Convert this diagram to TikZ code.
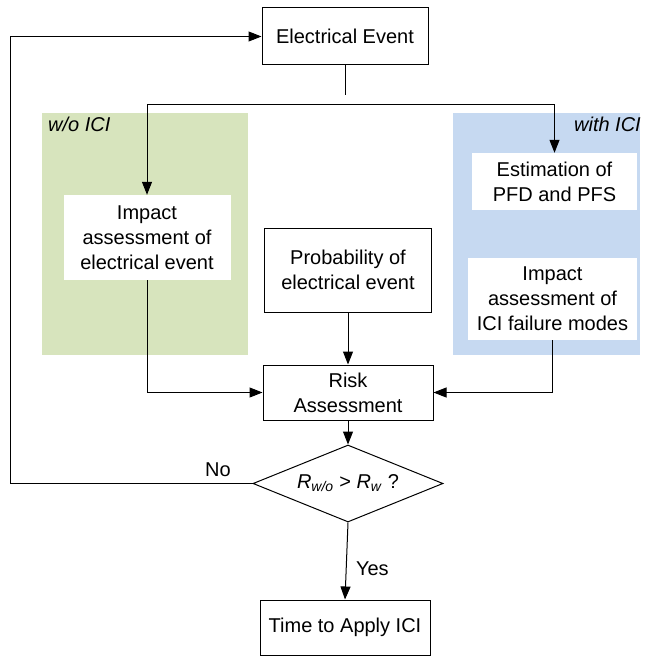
\documentclass[tikz,border=0pt]{standalone}
\usepackage{fontspec}
\setmainfont{Liberation Sans}
\usetikzlibrary{arrows.meta,shapes.geometric}
\definecolor{pgreen}{HTML}{D7E4BD}
\definecolor{pblue}{HTML}{C6D9F1}
\tikzset{
  box/.style={draw, line width=1pt, align=center, inner sep=0pt, font=\fontsize{20}{25}\selectfont},
  wbox/.style={fill=white, align=center, inner sep=0pt, font=\fontsize{20}{25}\selectfont},
  arr/.style={line width=1pt, -{Triangle[length=13pt,width=10pt]}},
  ln/.style={line width=1pt},
  lbl/.style={inner sep=0pt, font=\fontsize{20}{25}\selectfont},
}
\begin{document}
\begin{tikzpicture}[x=1pt,y=-1pt]
\useasboundingbox (0,0) rectangle (655,663);
% panels
\fill[pgreen] (42,113) rectangle (248,355);
\fill[pblue] (453,113) rectangle (640,355);
\node[lbl, anchor=north west] (wo) at (48,117) {\itshape w/o ICI};
\node[lbl, anchor=north east] (wi) at (641,117) {\itshape with ICI};
% nodes
\node[box, minimum width=166pt, minimum height=57pt] (ee) at (345,36.5) {Electrical Event};
\node[wbox, minimum width=167pt, minimum height=85pt] (imp) at (147,237.5) {Impact\\assessment of\\electrical event};
\node[wbox, minimum width=165pt, minimum height=57pt] (est) at (554.5,181.5) {Estimation of\\PFD and PFS};
\node[wbox, minimum width=169pt, minimum height=82pt] (ici) at (552.5,299) {Impact\\assessment of\\ICI failure modes};
\node[box, minimum width=167pt, minimum height=84pt] (prob) at (348,270) {Probability of\\electrical event};
\node[box, minimum width=170pt, minimum height=55pt] (risk) at (348,392.5) {Risk\\Assessment};
\node[draw, line width=1pt, diamond, aspect=2.47, minimum width=190pt, minimum height=77pt, inner sep=0pt, font=\fontsize{20}{25}\selectfont] (dia) at (348,483.5)
  {\textit{R}\textsubscript{\textit{w/o}} > \textit{R}\textsubscript{\textit{w}} ?};
\node[box, minimum width=170pt, minimum height=55pt] (time) at (345,627.5) {Time to Apply ICI};
% coordinates
\coordinate (eeend) at (345,95);
\coordinate (hm) at (345,105);
\coordinate (lc) at (10,483.5);
% connectors
\draw[ln] (ee.south) -- (eeend);
\draw[arr] (hm) -| (imp.north);
\draw[arr] (hm) -| (est.north);
\draw[arr] (prob.south) -- (risk.north);
\draw[arr] (imp.south) |- (risk.west);
\draw[arr] (ici.south) |- (risk.east);
\draw[arr] (risk.south) -- (dia.north);
\draw[arr] (dia.south) -- (time.north) node[lbl, midway, right=9pt, yshift=-8pt] (yes) {Yes};
\draw[arr] (dia.west) -- (lc) |- (ee.west);
\node[lbl] (no) at (218,470) {No};
\end{tikzpicture}
\end{document}
